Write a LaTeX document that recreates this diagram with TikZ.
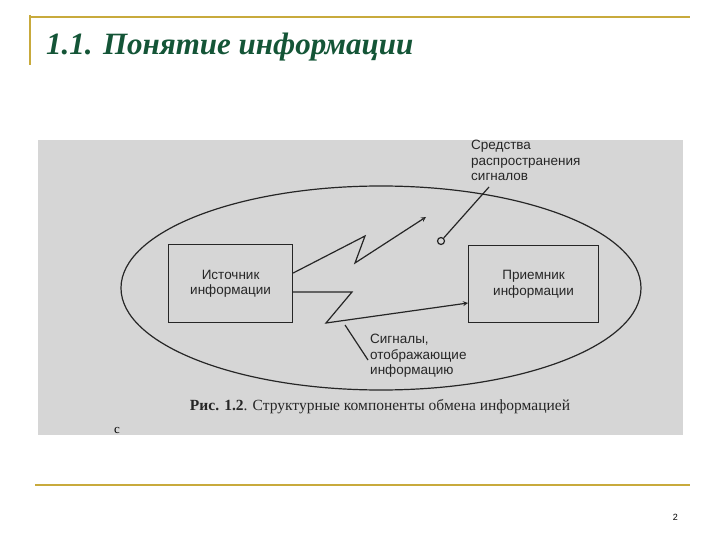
\documentclass[tikz,border=0pt]{standalone}
\usepackage{fontspec}
\setmainfont{Liberation Serif}
\newfontfamily\lsans{Liberation Sans}
\begin{document}
\begin{tikzpicture}[x=1pt,y=-1pt,
  lab/.style={font=\lsans\fontsize{13.5}{15.5}\selectfont, text=black!85, align=center, inner sep=0},
  llab/.style={font=\lsans\fontsize{13.5}{15.5}\selectfont, text=black!85, align=left, anchor=north west, inner sep=0},
  ln/.style={line width=1.2pt, black!85},
  gold/.style={line width=1.2pt, draw={rgb,255:red,200;green,170;blue,60}}]
\useasboundingbox (0,0) rectangle (720,540);
\fill[white] (0,0) rectangle (720,540);
\draw[gold] (30,17) -- (690,17);
\draw[gold] (30,15) -- (30,65);
\draw[gold] (35,485) -- (690,485);
\node[anchor=west, inner sep=0, font=\bfseries\itshape\fontsize{31}{34}\selectfont, text={rgb,255:red,20;green,85;blue,55}] (title) at (46,47) {1.1. Понятие информации};
\node[anchor=east, inner sep=0, font=\lsans\fontsize{9}{10}\selectfont] (pg) at (678,517) {2};
\fill[black!16] (38,140) rectangle (683,435);
\draw[ln] (381,288) ellipse [x radius=260, y radius=102];
\node[draw, ln, minimum width=124, minimum height=78, anchor=north west, lab] (src) at (168,244) {};
\node[lab] at (src.center) {Источник\\информации};
\node[draw, ln, minimum width=130, minimum height=77, anchor=north west] (dst) at (468,245) {};
\node[lab] at (dst.center) {Приемник\\информации};
\coordinate (a0) at (src.east |- 0,273);
\coordinate (a1) at (365,236);
\coordinate (a2) at (355,263);
\coordinate (a3) at (426,217);
\draw[ln, -stealth] (a0) -- (a1) -- (a2) -- (a3);
\coordinate (b0) at (src.east |- 0,292);
\coordinate (b1) at (352,292);
\coordinate (b2) at (326,323);
\coordinate (b3) at (dst.west |- 0,303);
\draw[ln, -stealth] (b0) -- (b1) -- (b2) -- (b3);
\node[draw, ln, circle, minimum size=7, inner sep=0] (c) at (441,241) {};
\coordinate (c1) at (489,187);
\draw[ln] (c) -- (c1);
\node[llab] (t1) at (471,140) {Средства\\распространения\\сигналов};
\coordinate (s0) at (345,325);
\coordinate (s1) at (368,360);
\draw[ln] (s0) -- (s1);
\node[llab] (t2) at (370,334) {Сигналы,\\отображающие\\информацию};
\node[inner sep=0, font=\fontsize{15.5}{17}\selectfont, text=black!85] (cap) at (380,407) {\textbf{Рис. 1.2}. Структурные компоненты обмена информацией};
\node[inner sep=0, font=\fontsize{13}{14}\selectfont] (cc) at (117,430) {с};
\end{tikzpicture}
\end{document}
